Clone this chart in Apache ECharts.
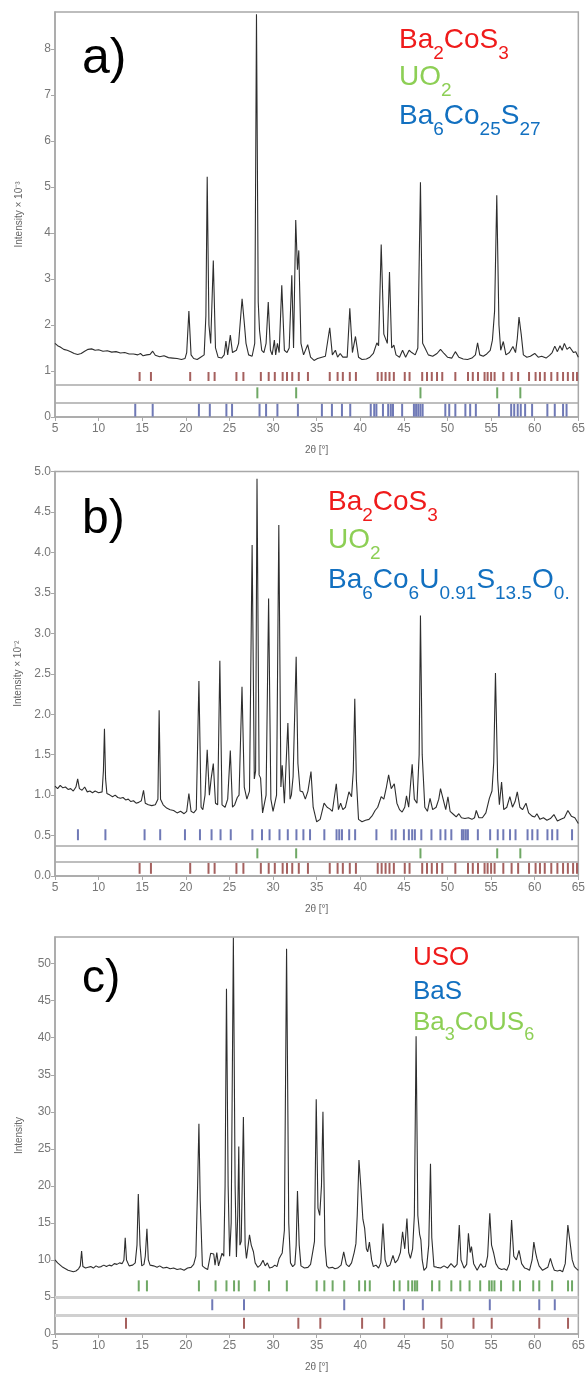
<!DOCTYPE html>
<html>
<head>
<meta charset="utf-8">
<script src="https://cdn.jsdelivr.net/npm/echarts@6/dist/echarts.min.js"></script>
<style>
  html, body { margin: 0; padding: 0; background: #fff; }
  #chart { width: 588px; height: 1378px; }
</style>
</head>
<body>
<div id="chart"></div>
<script>
// ---- diffraction patterns: [2θ (°), intensity] ----
const patternA = [
  [5.0,1.60],[5.3,1.55],[5.6,1.52],[6.0,1.47],[6.4,1.45],[6.8,1.42],[7.2,1.38],[7.6,1.36],[8.0,1.38],[8.4,1.43],
  [8.8,1.47],[9.2,1.48],[9.6,1.45],[10.0,1.46],[10.5,1.43],[11.0,1.44],[11.5,1.41],[12.0,1.42],[12.5,1.39],[13.0,1.40],
  [13.5,1.37],[14.0,1.37],[14.5,1.35],[14.8,1.38],[15.1,1.33],[15.5,1.35],[15.9,1.36],[16.2,1.43],[16.5,1.34],[17.0,1.31],
  [17.5,1.33],[18.0,1.29],[18.5,1.28],[19.0,1.27],[19.5,1.25],[19.9,1.27],[20.1,1.40],[20.35,2.30],[20.6,1.35],[20.9,1.27],
  [21.3,1.25],[21.7,1.30],[22.1,1.35],[22.3,2.20],[22.45,5.22],[22.65,2.00],[22.85,1.60],[23.15,3.40],[23.4,1.50],[23.7,1.30],
  [24.1,1.28],[24.4,1.35],[24.6,1.65],[24.8,1.35],[25.1,1.78],[25.35,1.40],[25.8,1.45],[26.05,1.60],[26.45,2.57],[26.7,2.05],
  [26.9,1.60],[27.2,1.35],[27.6,1.32],[27.9,1.60],[28.1,8.75],[28.3,2.50],[28.45,1.88],[28.7,1.45],[28.95,1.40],[29.2,1.60],
  [29.45,2.50],[29.7,1.45],[29.9,1.35],[30.15,1.67],[30.3,1.35],[30.5,1.60],[30.7,1.40],[31.0,2.86],[31.3,1.45],[31.6,1.40],
  [31.85,1.50],[32.15,3.08],[32.35,1.50],[32.6,4.28],[32.8,3.20],[32.95,3.62],[33.2,1.60],[33.5,1.35],[33.97,1.57],[34.3,1.30],
  [34.7,1.23],[35.1,1.27],[35.6,1.30],[36.0,1.32],[36.5,1.94],[36.8,1.35],[37.15,1.45],[37.4,1.30],[37.7,1.38],[38.0,1.30],
  [38.5,1.30],[38.8,2.36],[39.1,1.40],[39.45,1.75],[39.8,1.30],[40.2,1.25],[40.7,1.26],[41.1,1.30],[41.5,1.38],[41.9,1.61],
  [42.1,1.55],[42.4,3.75],[42.7,1.80],[42.9,1.78],[43.1,1.60],[43.35,3.15],[43.6,1.50],[43.85,1.56],[44.1,1.35],[44.5,1.30],
  [44.85,1.45],[45.2,1.30],[45.6,1.45],[45.9,1.40],[46.3,1.35],[46.6,1.50],[46.9,5.10],[47.15,1.60],[47.45,1.49],[47.8,1.35],
  [48.3,1.32],[48.8,1.38],[49.2,1.47],[49.6,1.38],[50.0,1.30],[50.5,1.28],[50.9,1.42],[51.3,1.30],[51.8,1.26],[52.3,1.25],
  [52.8,1.28],[53.2,1.35],[53.45,1.61],[53.7,1.35],[54.1,1.32],[54.5,1.37],[54.9,1.45],[55.15,1.67],[55.4,2.30],[55.65,4.82],
  [55.9,2.00],[56.1,1.45],[56.4,1.64],[56.7,1.35],[57.1,1.40],[57.5,1.53],[57.8,1.40],[58.0,1.70],[58.2,2.17],[58.45,1.80],
  [58.7,1.35],[59.1,1.30],[59.5,1.32],[60.0,1.38],[60.4,1.30],[60.8,1.32],[61.3,1.28],[61.7,1.34],[62.0,1.40],[62.3,1.54],
  [62.6,1.42],[62.9,1.55],[63.15,1.45],[63.4,1.60],[63.7,1.47],[64.0,1.52],[64.2,1.53],[64.45,1.40],[64.7,1.42],[65.0,1.30]
];
const patternB = [
  [5.0,1.11],[5.3,1.08],[5.6,1.12],[5.9,1.09],[6.2,1.10],[6.5,1.07],[6.8,1.08],[7.1,1.05],[7.4,1.10],[7.6,1.20],
  [7.8,1.08],[8.1,1.06],[8.4,1.10],[8.7,1.04],[9.0,1.05],[9.3,1.03],[9.6,1.05],[10.0,1.03],[10.4,1.04],[10.55,1.30],
  [10.67,1.82],[10.8,1.20],[10.95,1.02],[11.3,1.00],[11.6,0.98],[11.9,1.00],[12.2,0.97],[12.5,0.96],[12.8,0.97],[13.1,0.94],
  [13.4,0.95],[13.7,0.92],[14.0,0.93],[14.3,0.90],[14.6,0.91],[14.9,0.93],[15.15,1.06],[15.35,0.90],[15.7,0.88],[16.1,0.87],
  [16.5,0.88],[16.8,0.95],[16.94,2.05],[17.1,0.95],[17.4,0.88],[17.8,0.84],[18.2,0.82],[18.6,0.81],[19.0,0.78],[19.4,0.80],
  [19.8,0.77],[20.1,0.80],[20.35,1.02],[20.6,0.80],[20.9,0.78],[21.2,0.82],[21.5,2.41],[21.75,0.85],[21.95,0.82],[22.2,1.00],
  [22.45,1.56],[22.7,1.00],[22.9,1.20],[23.15,1.39],[23.4,0.90],[23.65,0.88],[23.9,2.66],[24.15,0.88],[24.5,0.85],[24.8,0.95],
  [25.1,1.55],[25.35,0.85],[25.6,0.88],[25.9,0.97],[26.1,1.00],[26.44,2.34],[26.7,1.10],[27.0,0.95],[27.3,1.05],[27.6,4.09],
  [27.85,1.20],[28.0,1.30],[28.16,4.91],[28.4,1.25],[28.57,1.21],[28.8,0.78],[29.0,0.80],[29.2,1.00],[29.49,3.43],[29.75,0.95],
  [30.0,0.80],[30.2,0.78],[30.4,1.00],[30.66,4.34],[30.9,1.10],[31.05,1.37],[31.3,0.90],[31.7,1.89],[31.95,0.95],[32.1,1.00],
  [32.3,1.23],[32.65,2.71],[32.85,1.39],[33.1,1.05],[33.4,1.04],[33.7,0.95],[34.0,1.05],[34.35,1.29],[34.6,0.85],[35.0,0.67],
  [35.4,0.70],[35.85,0.90],[36.2,0.85],[36.5,0.83],[36.8,0.80],[37.25,1.14],[37.5,0.82],[37.75,0.90],[38.0,0.82],[38.3,0.85],
  [38.7,1.04],[39.0,0.98],[39.2,1.30],[39.37,2.19],[39.55,1.20],[39.8,0.70],[40.2,0.67],[40.6,0.69],[41.0,0.70],[41.4,0.75],
  [41.7,0.81],[42.0,0.85],[42.4,0.98],[42.7,0.95],[43.0,1.10],[43.25,1.25],[43.55,1.08],[43.9,1.14],[44.2,0.90],[44.5,0.82],
  [44.8,0.79],[45.1,0.85],[45.3,0.99],[45.55,0.85],[45.95,1.38],[46.2,0.95],[46.5,0.90],[46.75,1.50],[46.9,3.22],[47.1,1.50],
  [47.4,0.85],[47.7,0.80],[48.0,0.96],[48.3,0.82],[48.7,0.85],[49.0,0.95],[49.2,1.08],[49.5,0.95],[49.8,0.82],[50.05,0.98],
  [50.3,0.80],[50.7,0.76],[51.0,0.73],[51.3,0.77],[51.6,0.72],[52.0,0.71],[52.4,0.72],[52.8,0.70],[53.1,0.72],[53.3,0.81],
  [53.6,0.72],[54.0,0.72],[54.4,0.78],[54.8,0.96],[55.1,1.05],[55.3,1.40],[55.5,2.51],[55.75,1.20],[55.95,0.88],[56.2,1.16],
  [56.45,0.82],[56.8,0.85],[57.15,0.98],[57.45,0.85],[57.75,0.92],[58.0,1.04],[58.3,0.85],[58.6,0.82],[59.0,0.90],[59.3,0.78],
  [59.7,0.74],[60.0,0.73],[60.25,0.77],[60.6,0.70],[61.0,0.72],[61.4,0.69],[61.8,0.71],[62.2,0.76],[62.6,0.68],[63.0,0.70],
  [63.4,0.72],[63.8,0.81],[64.2,0.74],[64.6,0.72],[65.0,0.65]
];
const patternC = [
  [5.0,10.0],[5.3,9.6],[5.6,9.3],[5.9,9.0],[6.2,8.8],[6.5,8.6],[6.8,8.5],[7.1,8.4],[7.4,8.5],[7.7,8.8],
  [7.9,9.2],[8.05,11.2],[8.2,9.1],[8.5,8.9],[8.8,9.0],[9.1,9.1],[9.4,8.9],[9.7,9.2],[10.0,9.0],[10.3,9.1],
  [10.6,9.3],[10.9,9.1],[11.2,9.3],[11.5,9.2],[11.8,9.5],[12.1,9.4],[12.4,9.6],[12.7,9.5],[12.9,10.0],[13.05,13.0],
  [13.2,10.0],[13.5,9.2],[13.9,9.3],[14.2,9.6],[14.4,12.0],[14.55,18.9],[14.75,12.0],[14.95,9.2],[15.2,9.4],[15.35,10.5],
  [15.54,14.2],[15.7,10.0],[15.9,9.3],[16.3,9.2],[16.7,9.0],[17.0,9.2],[17.4,8.9],[17.8,9.0],[18.2,8.8],[18.6,8.9],
  [19.0,8.7],[19.4,8.8],[19.8,8.6],[20.2,8.9],[20.6,9.0],[20.9,9.4],[21.15,10.5],[21.35,20.0],[21.5,28.4],[21.65,18.0],
  [21.9,9.2],[22.2,8.9],[22.5,8.7],[22.7,8.8],[22.85,10.9],[23.0,11.0],[23.2,10.8],[23.35,9.3],[23.55,11.0],[23.75,9.2],
  [23.95,9.0],[24.15,10.9],[24.35,10.5],[24.5,20.0],[24.66,46.6],[24.85,20.0],[25.02,10.5],[25.2,15.0],[25.45,53.5],[25.65,20.0],
  [25.8,10.4],[25.95,16.0],[26.07,25.3],[26.2,12.0],[26.35,12.5],[26.6,29.3],[26.8,12.0],[26.95,10.2],[27.15,12.0],[27.3,13.4],
  [27.5,12.0],[27.75,11.1],[27.95,9.6],[28.25,9.0],[28.55,9.3],[28.85,9.95],[29.1,9.2],[29.35,9.6],[29.6,8.9],[29.9,9.0],
  [30.2,9.3],[30.45,9.1],[30.7,10.2],[31.05,10.95],[31.3,14.0],[31.55,52.0],[31.8,15.0],[32.0,9.6],[32.25,9.1],[32.5,9.4],
  [32.65,12.0],[32.8,19.3],[33.0,12.0],[33.2,9.2],[33.6,8.9],[34.0,9.0],[34.3,9.4],[34.55,11.1],[34.75,12.5],[34.95,31.7],
  [35.15,17.0],[35.35,16.0],[35.55,20.0],[35.72,30.0],[35.95,12.0],[36.15,9.2],[36.4,8.9],[36.8,9.0],[37.1,8.8],[37.4,8.9],
  [37.8,9.3],[38.1,11.1],[38.4,9.4],[38.7,9.1],[39.0,9.6],[39.3,11.0],[39.5,12.2],[39.65,16.0],[39.85,23.5],[40.05,20.1],
  [40.3,15.5],[40.5,14.3],[40.7,11.5],[40.85,11.1],[41.05,12.4],[41.3,10.0],[41.5,9.1],[41.8,9.3],[42.1,8.9],[42.35,9.6],
  [42.6,14.9],[42.85,10.0],[43.1,9.1],[43.4,9.3],[43.75,10.6],[44.0,9.6],[44.3,10.0],[44.6,11.0],[44.85,13.8],[45.1,11.5],
  [45.35,15.6],[45.55,11.0],[45.75,10.2],[46.0,11.5],[46.2,16.0],[46.4,40.2],[46.6,16.0],[46.8,13.5],[46.95,12.7],[47.1,10.0],
  [47.3,8.6],[47.6,9.0],[47.85,12.0],[48.05,23.0],[48.2,13.0],[48.45,9.1],[48.8,9.0],[49.2,8.9],[49.6,9.2],[50.0,8.9],
  [50.4,9.5],[50.8,9.0],[51.1,9.4],[51.35,14.7],[51.55,10.0],[51.9,8.9],[52.2,9.4],[52.4,13.6],[52.6,11.0],[52.75,11.8],
  [53.0,9.5],[53.4,8.6],[53.8,9.5],[54.1,9.0],[54.35,9.1],[54.6,10.5],[54.85,16.3],[55.05,12.0],[55.3,10.9],[55.55,9.5],
  [55.85,8.9],[56.2,8.7],[56.5,8.8],[56.8,8.6],[57.1,9.5],[57.35,15.4],[57.6,10.5],[57.9,10.0],[58.2,11.3],[58.5,9.5],
  [58.85,8.9],[59.1,8.8],[59.4,8.6],[59.7,10.0],[59.9,12.4],[60.1,11.0],[60.25,10.2],[60.5,9.2],[60.9,8.6],[61.2,8.8],
  [61.5,9.0],[61.8,10.2],[62.05,9.2],[62.25,8.6],[62.6,8.5],[62.9,8.6],[63.2,8.4],[63.5,9.5],[63.8,14.7],[64.05,12.4],
  [64.3,10.0],[64.55,9.1],[64.8,8.8],[65.0,8.6]
];

// ---- reflection positions (2θ) of the reference phases ----
const reflBa2CoS3 = [14.7,16.0,20.5,22.6,23.3,25.8,26.6,28.6,29.5,30.2,31.1,31.6,32.2,32.95,34.0,36.5,37.4,38.0,38.8,39.5,
  42.0,42.45,42.9,43.35,43.85,45.1,45.65,47.1,47.65,48.2,48.8,49.4,50.9,52.35,52.9,53.5,54.25,54.6,55.0,55.4,
  56.4,57.35,58.1,59.35,60.1,60.6,61.15,61.9,62.6,63.25,63.8,64.4,64.85];
const reflUO2 = [28.2,32.65,46.9,55.7,58.35];
const reflBa6Co25S27 = [14.2,16.2,21.5,22.75,24.65,25.3,28.45,29.2,30.5,32.85,35.6,36.75,37.9,38.85,41.2,41.6,41.85,42.6,43.2,
  43.5,43.75,44.8,46.15,46.4,46.65,46.9,47.15,49.75,50.2,50.9,52.05,52.6,53.25,55.9,57.3,57.65,58.05,58.4,58.9,59.7,
  61.45,62.3,63.25,63.65];
const reflBa6Co6US = [7.63,10.78,15.27,17.06,19.9,21.62,22.95,23.98,25.15,27.63,28.73,29.6,30.74,31.69,32.68,33.48,34.24,
  35.88,37.28,37.59,37.9,38.73,39.41,41.85,43.6,44.05,45.0,45.57,45.95,46.26,47.0,48.16,49.19,49.76,50.44,51.65,51.85,
  52.1,52.34,53.48,54.89,55.76,56.4,57.17,57.8,59.18,59.72,60.32,61.46,62.0,62.6,64.28];
const reflUSO = [13.14,26.67,32.9,35.42,40.21,42.75,47.28,49.3,52.98,55.07,60.52,63.82];
const reflBaS = [23.03,26.67,38.16,45.0,47.17,54.85,60.52,62.3];
const reflBa3CoUS6 = [14.6,15.54,21.5,23.41,24.66,25.53,26.07,27.9,29.53,31.58,35.0,35.88,36.83,38.16,39.87,40.55,41.09,
  43.86,44.51,45.5,45.95,46.26,46.52,48.23,49.07,50.44,51.47,52.53,53.75,54.78,55.07,55.38,56.14,57.55,58.31,59.83,
  60.52,62.0,63.82,64.28];

// ---- axis ranges and tick labels ----
const xTicks = { min: 5, max: 65, step: 5 };
const yRangeA = { min: 0, max: 8.8, step: 1 };
const yRangeB = { min: 0, max: 5.0, step: 0.5 };
const yRangeC = { min: 0, max: 53.6, step: 5 };
const yNames = ['Intensity × 10\u207B\u00B3', 'Intensity × 10\u207B\u00B2', 'Intensity'];
const xName = '2θ [°]';
const panelLetters = ['a)', 'b)', 'c)'];

// ---- phase labels (rich text: n = normal, s = subscript) ----
const legendA = [
  ['{n|Ba}{s|2}{n|CoS}{s|3}', '#ef1b1b'],
  ['{n|UO}{s|2}', '#8dcf55'],
  ['{n|Ba}{s|6}{n|Co}{s|25}{n|S}{s|27}', '#1270c0']
];
const legendB = [
  ['{n|Ba}{s|2}{n|CoS}{s|3}', '#ef1b1b'],
  ['{n|UO}{s|2}', '#8dcf55'],
  ['{n|Ba}{s|6}{n|Co}{s|6}{n|U}{s|0.91}{n|S}{s|13.5}{n|O}{s|0.}', '#1270c0']
];
const legendC = [
  ['{n|USO}', '#ef1b1b'],
  ['{n|BaS}', '#1270c0'],
  ['{n|Ba}{s|3}{n|CoUS}{s|6}', '#8dcf55']
];

// ---- layout ----
const FONT = '"Liberation Sans", Arial, Helvetica, sans-serif';
const PLOT_LEFT = 55, PLOT_W = 526;
const grids = [
  { left: PLOT_LEFT, top: 12, width: PLOT_W, height: 405 },
  { left: PLOT_LEFT, top: 471.5, width: PLOT_W, height: 404.5 },
  { left: PLOT_LEFT, top: 937, width: PLOT_W, height: 397 }
];
const AXIS_GREY = '#a8a8a8';
const TICK_COLORS = { red: '#a5605e', green: '#6fa865', blue: '#6f79b6' };

function xAxis(i) {
  return {
    type: 'value', gridIndex: i, min: xTicks.min, max: xTicks.max, interval: xTicks.step,
    name: xName, nameLocation: 'middle', nameGap: 28,
    nameTextStyle: { fontSize: 10, color: '#666', fontFamily: FONT },
    axisLine: { show: true, onZero: false, lineStyle: { color: AXIS_GREY, width: 1.5 } },
    axisTick: { show: true, length: 4, lineStyle: { color: AXIS_GREY, width: 1 } },
    axisLabel: { fontSize: 12, color: '#777', margin: 6, fontFamily: FONT },
    splitLine: { show: false }
  };
}
function yAxis(i, r, fmt) {
  return {
    type: 'value', gridIndex: i, min: r.min, max: r.max, interval: r.step,
    name: yNames[i], nameLocation: 'middle', nameGap: 31, nameRotate: 90,
    nameTextStyle: { fontSize: 10, color: '#666', fontFamily: FONT },
    axisLine: { show: true, onZero: false, lineStyle: { color: AXIS_GREY, width: 1.5 } },
    axisTick: { show: true, length: 4, lineStyle: { color: AXIS_GREY, width: 1 } },
    axisLabel: { fontSize: 12, color: '#777', margin: 4, fontFamily: FONT, showMaxLabel: r.max % r.step === 0, formatter: fmt },
    splitLine: { show: false }
  };
}

function pattern(i, data, separators, sepStyle) {
  return {
    type: 'line', xAxisIndex: i, yAxisIndex: i, data, showSymbol: false, symbol: 'none',
    lineStyle: { color: '#2e2e2e', width: 1.1 }, z: 4, silent: true,
    markLine: {
      silent: true, symbol: 'none', label: { show: false },
      lineStyle: Object.assign({ type: 'solid' }, sepStyle),
      data: separators.map(v => ({ yAxis: v }))
    }
  };
}
function reflections(i, positions, yCenter, h, color) {
  return {
    type: 'scatter', xAxisIndex: i, yAxisIndex: i, silent: true, z: 3,
    symbol: 'rect', symbolSize: [2, h], itemStyle: { color, opacity: 1 },
    data: positions.map(p => [p, yCenter])
  };
}

// one text line per phase; subscripts sit at the bottom of a tall line box
function legendTexts(x, baselines, rows, fs, ss, lh) {
  return rows.map((row, k) => ({
    type: 'text', x, y: baselines[k] - (lh / 2 + 0.35 * fs), z: 10,
    style: {
      text: row[0], fill: row[1], verticalAlign: 'top', align: 'left',
      rich: {
        n: { fontSize: fs, lineHeight: lh, fontFamily: FONT, fill: row[1] },
        s: { fontSize: ss, lineHeight: ss, verticalAlign: 'bottom', fontFamily: FONT, fill: row[1] }
      }
    }
  }));
}
function letter(text, x, baseline, fs) {
  return {
    type: 'text', x, y: baseline - 0.35 * fs, z: 10,
    style: { text, fill: '#000', font: fs + 'px ' + FONT, verticalAlign: 'middle', align: 'left' }
  };
}

const chart = echarts.init(document.getElementById('chart'), null, { renderer: 'canvas' });
chart.setOption({
  animation: false,
  backgroundColor: '#fff',
  grid: grids.map(g => Object.assign({ show: true, borderColor: AXIS_GREY, borderWidth: 1.5, backgroundColor: 'transparent' }, g)),
  xAxis: [xAxis(0), xAxis(1), xAxis(2)],
  yAxis: [yAxis(0, yRangeA), yAxis(1, yRangeB, v => v.toFixed(1)), yAxis(2, yRangeC)],
  series: [
    pattern(0, patternA, [0.3, 0.7], { color: AXIS_GREY, width: 1.5 }),
    reflections(0, reflBa2CoS3, 0.88, 9, TICK_COLORS.red),
    reflections(0, reflUO2, 0.525, 11, TICK_COLORS.green),
    reflections(0, reflBa6Co25S27, 0.15, 13, TICK_COLORS.blue),

    pattern(1, patternB, [0.185, 0.374], { color: AXIS_GREY, width: 1.5 }),
    reflections(1, reflBa6Co6US, 0.51, 11, TICK_COLORS.blue),
    reflections(1, reflUO2, 0.28, 10, TICK_COLORS.green),
    reflections(1, reflBa2CoS3, 0.095, 11, TICK_COLORS.red),

    pattern(2, patternC, [2.5, 5.0], { color: '#d0d0d0', width: 3 }),
    reflections(2, reflBa3CoUS6, 6.5, 11, TICK_COLORS.green),
    reflections(2, reflBaS, 3.95, 11, TICK_COLORS.blue),
    reflections(2, reflUSO, 1.45, 11, TICK_COLORS.red)
  ],
  graphic: [
    letter(panelLetters[0], 82, 77, 50),
    letter(panelLetters[1], 82, 536.7, 48),
    letter(panelLetters[2], 82, 995, 46),
    ...legendTexts(399, [50, 87.3, 126], legendA, 28, 19, 46),
    ...legendTexts(328, [511.7, 550, 590], legendB, 28, 19, 46),
    ...legendTexts(413, [966.7, 1000.7, 1031.7], legendC, 26, 18, 42)
  ]
});
</script>
</body>
</html>
